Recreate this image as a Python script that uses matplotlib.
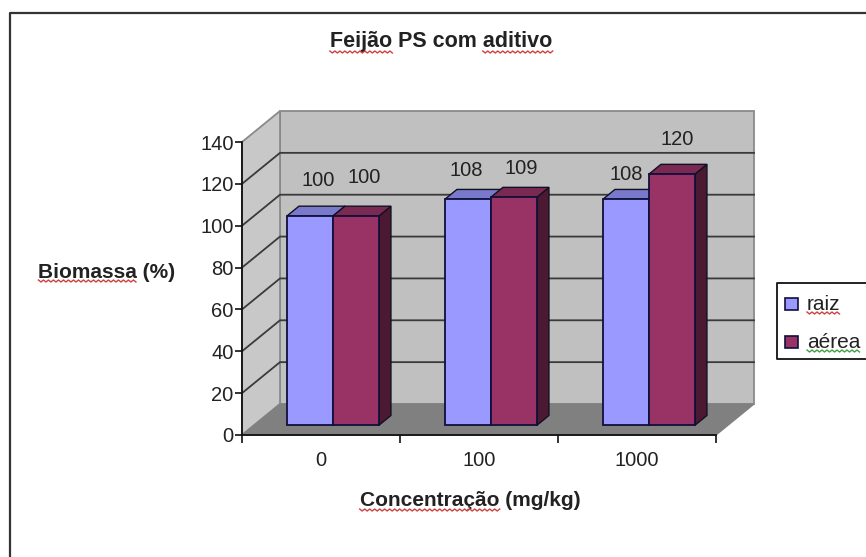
import matplotlib
matplotlib.use("Agg")
import matplotlib.pyplot as plt
from matplotlib.patches import Polygon, Rectangle
from matplotlib.transforms import IdentityTransform
import numpy as np

categories = ["0", "100", "1000"]
raiz = [100, 108, 108]
aerea = [100, 109, 120]
y_ticks = [0, 20, 40, 60, 80, 100, 120, 140]
title_text = "Feijão PS com aditivo"
x_title = "Concentração (mg/kg)"
y_title = "Biomassa (%)"

W, H = 866, 557
plt.rcParams["font.family"] = ["Liberation Sans", "DejaVu Sans"]
fig = plt.figure(figsize=(W / 100, H / 100), dpi=100)
TXT = "#222222"

# outer frame: only the left and top edges fall inside the picture
fig.add_artist(plt.Line2D([10 / W, 10 / W, 1], [0, 1 - 13 / H, 1 - 13 / H], transform=fig.transFigure,
                          color="#333333", lw=1.6))

L, R, B, T = 242, 716, 435, 142
ax = fig.add_axes([L / W, 1 - B / H, (R - L) / W, (B - T) / H])
ax.set_xlim(0, 3)
ax.set_ylim(0, 140)
ax.patch.set_visible(False)

# projection depth, in data units
DX = 38 / (R - L) * 3
DY = 31 / (B - T) * 140
ymax = y_ticks[-1]

def poly(pts, **kw):
    p = Polygon(pts, closed=True, clip_on=False, **kw)
    ax.add_patch(p)
    return p

# walls and floor
poly([(DX, DY), (3 + DX, DY), (3 + DX, ymax + DY), (DX, ymax + DY)], fc="#c0c0c0", ec="#8a8a8a", lw=1.3, zorder=1)
poly([(0, 0), (DX, DY), (DX, ymax + DY), (0, ymax)], fc="#c8c8c8", ec="#8a8a8a", lw=1.3, zorder=1)
poly([(0, 0), (3, 0), (3 + DX, DY), (DX, DY)], fc="#808080", ec="#808080", lw=1, zorder=1.5)

# gridlines
for v in y_ticks[1:-1]:
    ax.plot([0, DX, 3 + DX], [v, v + DY, v + DY], color="#3a3a3a", lw=1.3, zorder=1.2, clip_on=False)

# bars
GAP = 33 / 158
BW = 46 / 158
F0, F1 = 0.31, 0.63
series = [(raiz, "#9999ff", "#7a7acc", "#4c4c80"), (aerea, "#993366", "#7a2952", "#4c1933")]
for c in range(len(categories)):
    for s, (vals, front, top, side) in enumerate(series):
        v = vals[c]
        x0 = c + GAP + s * BW + F0 * DX
        x1 = x0 + BW
        y0 = F0 * DY
        ddx = (F1 - F0) * DX
        ddy = (F1 - F0) * DY
        poly([(x1, y0), (x1 + ddx, y0 + ddy), (x1 + ddx, y0 + v + ddy), (x1, y0 + v)],
             fc=side, ec="#111122", lw=1, zorder=3 + c + s * .1)
        poly([(x0, y0 + v), (x1, y0 + v), (x1 + ddx, y0 + v + ddy), (x0 + ddx, y0 + v + ddy)],
             fc=top, ec="#111122", lw=1, zorder=3 + c + s * .1)
        ax.bar(x0, v, width=BW, bottom=y0, align="edge", color=front, ec="#10103a", lw=1.3,
               zorder=3.05 + c + s * .1, clip_on=False)

# value labels (pixel nudges from each bar's top centre)
nudges = [[(8, 36), (8, 39)], [(-2, 29), (7, 29)], [(0, 25), (5, 35)]]
for c in range(len(categories)):
    for s, (vals, *_) in enumerate(series):
        xc = c + GAP + (s + .5) * BW + F0 * DX
        ax.annotate(str(vals[c]), (xc, vals[c] + F0 * DY), xytext=nudges[c][s], textcoords="offset pixels",
                    ha="center", va="center", fontsize=14.5, color=TXT, zorder=20, annotation_clip=False)

# axes
for s in ("top", "right"):
    ax.spines[s].set_visible(False)
for s in ("left", "bottom"):
    ax.spines[s].set_color("#111111")
    ax.spines[s].set_linewidth(1.3)
    ax.spines[s].set_zorder(2)
ax.set_yticks(y_ticks)
ax.set_xticks([0, 1, 2, 3])
ax.set_xticklabels([])
ax.tick_params(axis="y", direction="out", length=5, width=1.2, color="#111111", labelsize=14.5, labelcolor=TXT, pad=1)
ax.tick_params(axis="x", direction="out", length=6, width=1.2, color="#111111")
for c, lab in enumerate(categories):
    ax.annotate(lab, (c + .5, 0), xytext=(0, -26), textcoords="offset pixels", ha="center", va="center",
                fontsize=14.5, color=TXT, annotation_clip=False)

# titles with proofing squiggles under the flagged words
def squiggle(t, color, words):
    fig.canvas.draw()
    r = fig.canvas.get_renderer()
    bb = t.get_window_extent(r)
    s = t.get_text()
    fp = t.get_fontproperties()
    for w in words:
        i = s.index(w)
        a = r.get_text_width_height_descent(s[:i], fp, False)[0] if i else 0
        b = r.get_text_width_height_descent(s[:i + len(w)], fp, False)[0]
        xs = np.arange(bb.x0 + a, bb.x0 + b + 1, 2.5)
        ys = bb.y0 + np.where(np.arange(len(xs)) % 2 == 0, 1.5, -0.5)
        fig.add_artist(plt.Line2D(xs, ys, color=color, lw=1.0, transform=IdentityTransform(), zorder=32))

def ftext(px, py, s, **kw):
    return fig.text(px / W, 1 - py / H, s, ha="center", va="center", color=TXT, **kw)

t = ftext(441, 42, title_text, fontsize=15.5, fontweight="bold")
squiggle(t, "#d04040", ["Feijão", "aditivo"])
t = ftext(107, 272, y_title, fontsize=15, fontweight="bold")
squiggle(t, "#d04040", ["Biomassa"])
t = ftext(470, 501, x_title, fontsize=15, fontweight="bold")
squiggle(t, "#d04040", ["Concentração"])

# legend
fig.add_artist(plt.Line2D([1, 777 / W, 777 / W, 1], [1 - 283 / H, 1 - 283 / H, 1 - 359 / H, 1 - 359 / H],
                          transform=fig.transFigure, color="#222222", lw=1.4, zorder=31))
for py, col, lab, sq in [(304, "#9999ff", "raiz", "#d04040"), (342, "#993366", "aérea", "#40a040")]:
    fig.add_artist(Rectangle((785 / W, 1 - (py + 6) / H), 13 / W, 12 / H, transform=fig.transFigure,
                             fc=col, ec="#10103a", lw=1.2, zorder=31))
    t = fig.text(807 / W, 1 - py / H, lab, ha="left", va="center", fontsize=15, color=TXT, zorder=31)
    squiggle(t, sq, [lab])

fig.savefig("out.png", dpi=100)
